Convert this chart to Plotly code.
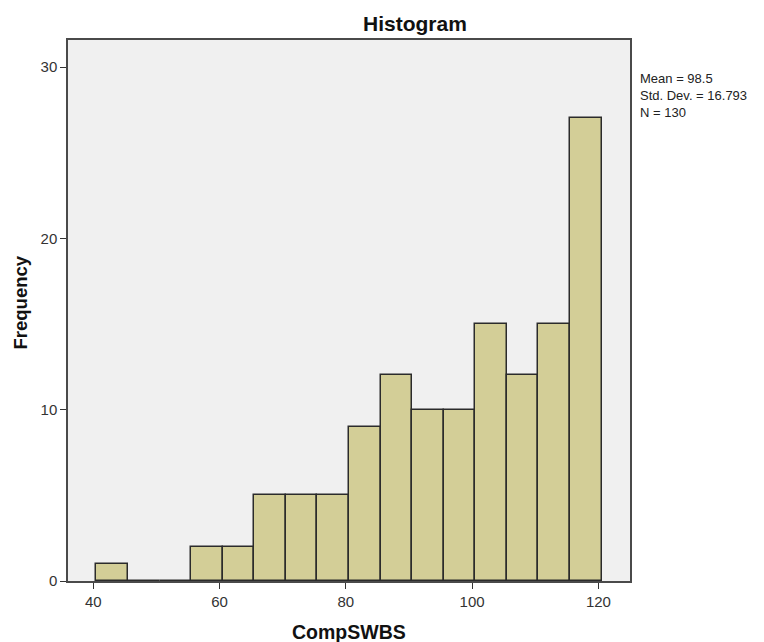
import plotly.graph_objects as go

bin_starts = [40.5, 45.5, 50.5, 55.5, 60.5, 65.5, 70.5, 75.5, 80.5, 85.5, 90.5, 95.5, 100.5, 105.5, 110.5, 115.5]
counts = [1, 0, 0, 2, 2, 5, 5, 5, 9, 12, 10, 10, 15, 12, 15, 27]
bin_width = 5
x_ticks = [40, 60, 80, 100, 120]
y_ticks = [0, 10, 20, 30]
stats_lines = ["Mean = 98.5", "Std. Dev. = 16.793", "N = 130"]

centers = [s + bin_width / 2 for s in bin_starts]

FONT = "Liberation Sans, Arial, sans-serif"

fig = go.Figure()
fig.add_trace(go.Bar(
    x=centers, y=counts, width=bin_width,
    marker=dict(color="#D3CE97", line=dict(color="#2b2b2b", width=1.5)),
    showlegend=False, hoverinfo="x+y",
))

annotations = [
    dict(text="<b>Histogram</b>", xref="paper", yref="paper", x=0.6178, y=1,
         yshift=30, xanchor="center", yanchor="top", showarrow=False,
         font=dict(size=21, color="#111111")),
    dict(text="<b>CompSWBS</b>", xref="paper", yref="paper", x=0.5, y=0,
         yshift=-38, xanchor="center", yanchor="top", showarrow=False,
         font=dict(size=19.5, color="#111111")),
    dict(text="<b>Frequency</b>", xref="paper", yref="paper", x=0, y=0.5139,
         xshift=-60, xanchor="left", yanchor="middle", textangle=-90, showarrow=False,
         font=dict(size=18.5, color="#111111")),
    dict(text="<br>".join(stats_lines), xref="paper", yref="paper", x=1, xshift=7.5, y=1,
         yshift=-28.5, xanchor="left", yanchor="top", align="left", showarrow=False,
         font=dict(size=13, color="#222222")),
]

fig.update_layout(
    width=764, height=642,
    margin=dict(l=60, r=141.5, t=32, b=69),
    paper_bgcolor="white", plot_bgcolor="#F0F0F0",
    font=dict(family=FONT, color="#222222"),
    bargap=0,
    annotations=annotations,
)
fig.update_xaxes(
    range=[36, 125], tickvals=x_ticks, ticks="outside", ticklen=6, tickcolor="#333333",
    showgrid=False, zeroline=False, showline=True, linecolor="#4a4a4a", linewidth=1.5, mirror=True,
    tickfont=dict(size=15, color="#333333"),
)
fig.update_yaxes(
    range=[0, 31.58], tickvals=y_ticks, ticks="outside", ticklen=6, tickcolor="#333333",
    showgrid=False, zeroline=False, showline=True, linecolor="#4a4a4a", linewidth=1.5, mirror=True,
    tickfont=dict(size=15, color="#333333"),
)

fig.write_html("out.html")
